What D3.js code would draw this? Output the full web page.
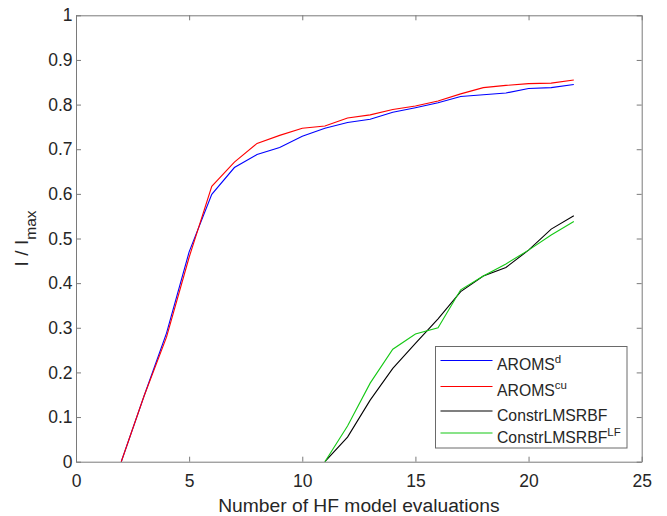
<!DOCTYPE html>
<html>
<head>
<meta charset="utf-8">
<script src="https://cdn.jsdelivr.net/npm/d3@7"></script>
<style>
  body { margin: 0; background: #fff; }
  svg { display: block; font-family: "Liberation Sans", Arial, Helvetica, sans-serif; }
</style>
</head>
<body>
<svg id="chart" width="667" height="516"></svg>
<script>
// evaluations on the x axis
const evalsAroms = [2, 3, 4, 5, 6, 7, 8, 9, 10, 11, 12, 13, 14, 15, 16, 17, 18, 19, 20, 21, 22];
const evalsConstr = [11, 12, 13, 14, 15, 16, 17, 18, 19, 20, 21, 22];

// I / Imax
const aromsD = [0, 0.146, 0.288, 0.470, 0.599, 0.659, 0.688, 0.704, 0.729, 0.747, 0.760,
  0.767, 0.783, 0.793, 0.804, 0.818, 0.822, 0.826, 0.836, 0.838, 0.845];
const aromsCu = [0, 0.146, 0.279, 0.458, 0.617, 0.671, 0.713, 0.731, 0.747, 0.752, 0.770,
  0.777, 0.789, 0.797, 0.808, 0.824, 0.838, 0.843, 0.847, 0.848, 0.855];
const constr = [0, 0.055, 0.138, 0.209, 0.265, 0.320, 0.381, 0.416, 0.435, 0.474, 0.521, 0.551];
const constrLF = [0, 0.080, 0.176, 0.252, 0.286, 0.300, 0.385, 0.416, 0.443, 0.474, 0.508, 0.538];

const xTicks = [0, 5, 10, 15, 20, 25];
const xTickLabels = ["0", "5", "10", "15", "20", "25"];
const yTicks = [0, 0.1, 0.2, 0.3, 0.4, 0.5, 0.6, 0.7, 0.8, 0.9, 1];
const yTickLabels = ["0", "0.1", "0.2", "0.3", "0.4", "0.5", "0.6", "0.7", "0.8", "0.9", "1"];

const series = [
  { name: "AROMS", sup: "d", xs: evalsAroms, ys: aromsD, color: "#0000ff" },
  { name: "AROMS", sup: "cu", xs: evalsAroms, ys: aromsCu, color: "#ff0000" },
  { name: "ConstrLMSRBF", sup: "", xs: evalsConstr, ys: constr, color: "#000000" },
  { name: "ConstrLMSRBF", sup: "LF", xs: evalsConstr, ys: constrLF, color: "#14c814" }
];

const width = 667, height = 516;
const margin = { top: 15.3, right: 25.3, bottom: 54.3, left: 76 };
const xdim = width - margin.left - margin.right;
const ydim = height - margin.top - margin.bottom;

const svg = d3.select("#chart");
const axisColor = "#7a7a7a";
const textColor = "#262626";

const xscale = d3.scaleLinear().domain([0, 25]).range([0, xdim]);
const yscale = d3.scaleLinear().domain([0, 1]).range([ydim, 0]);

const plot = svg.append("g").attr("transform", `translate(${margin.left}, ${margin.top})`);

// lines
const line = d3.line()
  .x(d => xscale(d[0]))
  .y(d => yscale(d[1]));

series.forEach(s => {
  plot.append("path")
    .datum(s.xs.map((x, i) => [x, s.ys[i]]))
    .attr("d", line)
    .attr("fill", "none")
    .attr("stroke", s.color)
    .attr("stroke-width", 1.1);
});

// axes (box with inward ticks)
const styleAxis = (g) => {
  g.select(".domain").attr("stroke", axisColor);
  g.selectAll(".tick line").attr("stroke", axisColor);
  g.selectAll(".tick text")
    .attr("fill", textColor)
    .style("font-size", "17.5px")
    .style("font-family", "'Liberation Sans', Arial, Helvetica, sans-serif");
};

plot.append("g")
  .attr("transform", `translate(0, ${ydim})`)
  .call(d3.axisBottom(xscale).tickValues(xTicks).tickFormat((d, i) => xTickLabels[i])
    .tickSizeInner(-5).tickSizeOuter(0).tickPadding(13))
  .call(styleAxis);

plot.append("g")
  .call(d3.axisLeft(yscale).tickValues(yTicks).tickFormat((d, i) => yTickLabels[i])
    .tickSizeInner(-5).tickSizeOuter(0).tickPadding(3.5))
  .call(styleAxis);

plot.append("g")
  .call(d3.axisTop(xscale).tickValues(xTicks).tickFormat("")
    .tickSizeInner(-5).tickSizeOuter(0))
  .call(styleAxis);

plot.append("g")
  .attr("transform", `translate(${xdim}, 0)`)
  .call(d3.axisRight(yscale).tickValues(yTicks).tickFormat("")
    .tickSizeInner(-5).tickSizeOuter(0))
  .call(styleAxis);

// axis titles
svg.append("text")
  .text("Number of HF model evaluations")
  .attr("text-anchor", "middle")
  .attr("x", margin.left + xdim / 2)
  .attr("y", 511.5)
  .attr("fill", textColor)
  .style("font-size", "19.25px");

const ytitle = svg.append("text")
  .attr("text-anchor", "middle")
  .attr("transform", `translate(27.5, ${margin.top + ydim / 2}) rotate(-90)`)
  .attr("fill", textColor)
  .style("font-size", "19.25px");
ytitle.append("tspan").text("I / I");
ytitle.append("tspan").text("max").attr("dy", 8).style("font-size", "15.5px");

// legend
const legend = svg.append("g").attr("transform", "translate(435.5, 346.5)");
const rowY = [14, 40, 64.5, 86.5];

legend.append("rect")
  .attr("width", 191.5)
  .attr("height", 101.5)
  .attr("fill", "#fff")
  .attr("stroke", "#6a6a6a");

series.forEach((s, i) => {
  legend.append("line")
    .attr("x1", 5).attr("x2", 57)
    .attr("y1", rowY[i]).attr("y2", rowY[i])
    .attr("stroke", s.color)
    .attr("stroke-width", 1.1);
  const t = legend.append("text")
    .attr("x", 61.5)
    .attr("y", rowY[i] + 9.5)
    .attr("fill", textColor)
    .style("font-size", "15.75px");
  t.append("tspan").text(s.name);
  if (s.sup) {
    t.append("tspan").text(s.sup).attr("dy", -7).style("font-size", "11.5px");
  }
});
</script>
</body>
</html>
